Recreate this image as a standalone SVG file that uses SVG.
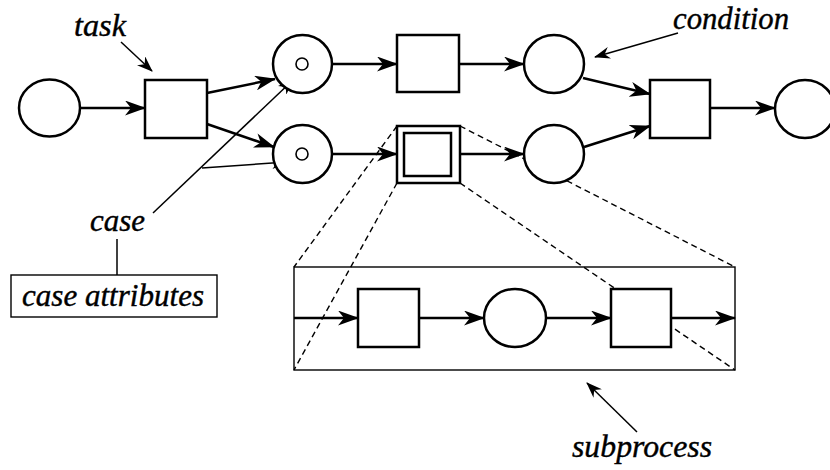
<svg xmlns="http://www.w3.org/2000/svg" width="830" height="470" viewBox="0 0 830 470">
<style>
.node{fill:#fff;stroke:#000;stroke-width:2.5}
.tok{fill:#fff;stroke:#000;stroke-width:1.6}
.arc{fill:none;stroke:#000;stroke-width:2.5;marker-end:url(#ah)}
.thin{fill:none;stroke:#000;stroke-width:1.5;marker-end:url(#ahs)}
.line{fill:none;stroke:#000;stroke-width:1.5}
.dash{fill:none;stroke:#000;stroke-width:1.4;stroke-dasharray:6,4}
.box{fill:none;stroke:#000;stroke-width:1.4}
.lbl{font-family:"Liberation Serif","Times New Roman",serif;font-style:italic;font-size:31px;fill:#000;stroke:#000;stroke-width:0.4}
</style>
<defs>
<marker id="ah" markerUnits="userSpaceOnUse" markerWidth="21" markerHeight="15" viewBox="0 0 21 15" refX="20" refY="7.5" orient="auto">
<path d="M0,0 L21,7.5 L0,15 L6,7.5 z" fill="#000"/>
</marker>
<marker id="ahs" markerUnits="userSpaceOnUse" markerWidth="16" markerHeight="12" viewBox="0 0 16 12" refX="15" refY="6" orient="auto">
<path d="M0,0 L16,6 L0,12 L5,6 z" fill="#000"/>
</marker>
</defs>
<rect width="830" height="470" fill="#fff"/>

<g id="subprocess-frame">
<rect class="box" x="294" y="267" width="441" height="103"/>
</g>

<g id="connectors">
<line class="dash" x1="397" y1="126" x2="294" y2="267"/>
<line class="dash" x1="397" y1="183" x2="294" y2="370"/>
<line class="dash" x1="460" y1="126" x2="735" y2="267"/>
<line class="dash" x1="460" y1="183" x2="735" y2="370"/>
<line class="arc" x1="80" y1="108" x2="145" y2="108"/>
<line class="arc" x1="207" y1="93" x2="275" y2="79"/>
<line class="arc" x1="207" y1="124" x2="274" y2="147"/>
<line class="arc" x1="332" y1="64" x2="397" y2="64"/>
<line class="arc" x1="332" y1="154" x2="397" y2="154"/>
<line class="arc" x1="459" y1="64" x2="524" y2="64"/>
<line class="arc" x1="460" y1="154" x2="524" y2="154"/>
<line class="arc" x1="583" y1="78" x2="650" y2="94"/>
<line class="arc" x1="584" y1="147" x2="650" y2="126"/>
<line class="arc" x1="710" y1="108" x2="775" y2="108"/>
<line class="arc" x1="294" y1="318" x2="358" y2="318"/>
<line class="arc" x1="419" y1="318" x2="484" y2="318"/>
<line class="arc" x1="546" y1="318" x2="611" y2="318"/>
<line class="arc" x1="671" y1="318" x2="735" y2="318"/>
<line class="thin" x1="121" y1="42" x2="152" y2="71"/>
<line class="thin" x1="678" y1="33" x2="595" y2="57"/>
<line class="thin" x1="637" y1="432" x2="587" y2="383"/>
<line class="thin" x1="153" y1="213" x2="293" y2="80"/>
<line class="thin" x1="202" y1="168" x2="287" y2="162"/>
<line class="line" x1="117" y1="239" x2="117" y2="275"/>
</g>

<g id="start"><ellipse class="node" cx="49.5" cy="108" rx="30.5" ry="28.5"/></g>
<g id="task1"><rect class="node" x="145" y="80" width="62" height="58"/></g>
<g id="p-upper"><ellipse class="node" cx="302.5" cy="64" rx="29.5" ry="29"/><circle class="tok" cx="302" cy="64" r="6"/></g>
<g id="p-lower"><ellipse class="node" cx="302.5" cy="154" rx="29.5" ry="29"/><circle class="tok" cx="302" cy="154" r="6"/></g>
<g id="task-upper"><rect class="node" x="397" y="35" width="62" height="57"/></g>
<g id="task-composite"><rect class="node" x="397" y="126" width="63" height="57"/><rect class="node" x="404" y="133" width="47" height="43"/></g>
<g id="p-upper-right"><ellipse class="node" cx="554" cy="64" rx="30" ry="29"/></g>
<g id="p-lower-right"><ellipse class="node" cx="554" cy="154" rx="30" ry="29"/></g>
<g id="task-join"><rect class="node" x="650" y="80" width="60" height="58"/></g>
<g id="end"><ellipse class="node" cx="805" cy="109" rx="30" ry="29"/></g>
<g id="sub-task1"><rect class="node" x="358" y="289" width="61" height="58"/></g>
<g id="sub-cond"><ellipse class="node" cx="515" cy="318" rx="31" ry="29"/></g>
<g id="sub-task2"><rect class="node" x="611" y="289" width="60" height="58"/></g>

<g id="case-attributes"><rect class="box" x="11" y="275" width="206" height="42"/><text class="lbl" x="22" y="306" textLength="182" lengthAdjust="spacingAndGlyphs">case attributes</text></g>

<g id="labels">
<text class="lbl" x="74" y="36" textLength="52" lengthAdjust="spacingAndGlyphs">task</text>
<text class="lbl" x="673" y="29" textLength="116" lengthAdjust="spacingAndGlyphs">condition</text>
<text class="lbl" x="90" y="231" textLength="55" lengthAdjust="spacingAndGlyphs">case</text>
<text class="lbl" x="572" y="457" textLength="140" lengthAdjust="spacingAndGlyphs">subprocess</text>
</g>
</svg>
